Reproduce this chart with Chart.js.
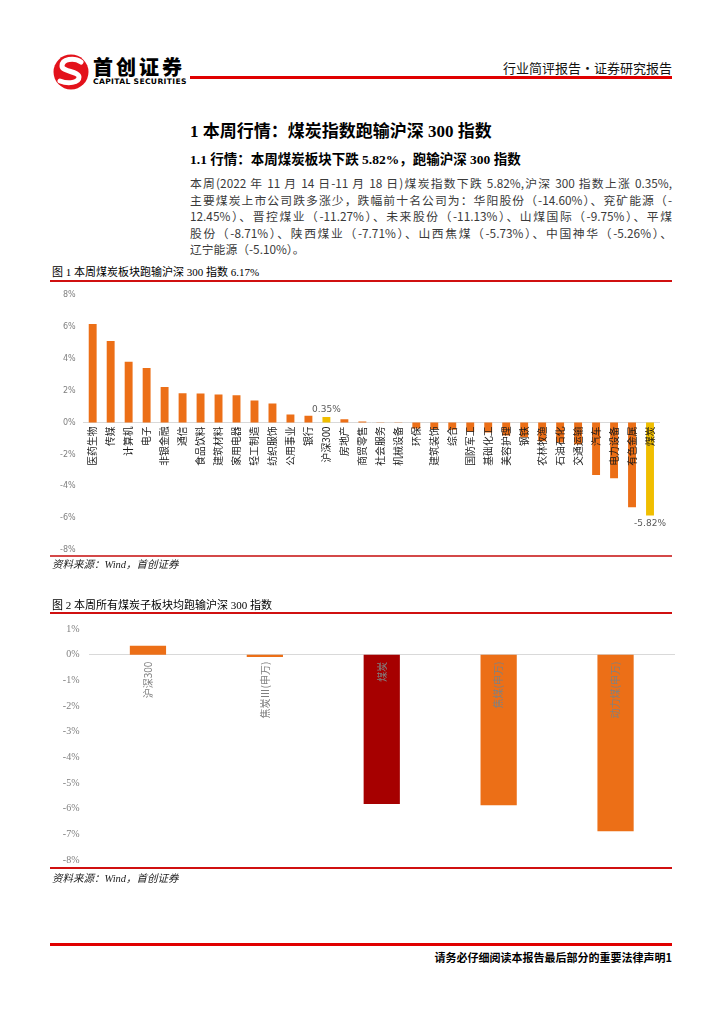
<!DOCTYPE html>
<html>
<head>
<meta charset="utf-8">
<script src="https://cdn.jsdelivr.net/npm/chart.js@4.4.0/dist/chart.umd.min.js"></script>
<style>
  html, body { margin:0; padding:0; background:#fff; }
  body { width:724px; height:1024px; position:relative; overflow:hidden; font-family:"Noto Sans CJK SC","Noto Sans",sans-serif; color:#000; }
  .abs { position:absolute; white-space:nowrap; }
  .serif { font-family:"Liberation Serif","Noto Sans CJK SC",serif; }
  .line { position:absolute; }
  .para { position:absolute; left:190px; top:175px; width:482px; font-size:11.8px; line-height:16.5px; color:#3a3a3a; }
  .para div { text-align:justify; text-align-last:justify; white-space:nowrap; }
  .para div.last { text-align-last:left; }
  canvas { position:absolute; }
</style>
</head>
<body>
<script>
// ---- data ----
const chart1Categories = ['医药生物','传媒','计算机','电子','非银金融','通信','食品饮料','建筑材料','家用电器','轻工制造','纺织服饰','公用事业','银行','沪深300','房地产','商贸零售','社会服务','机械设备','环保','建筑装饰','综合','国防军工','基础化工','美容护理','钢铁','农林牧渔','石油石化','交通运输','汽车','电力设备','有色金属','煤炭'];
const chart1Values = [6.17,5.10,3.81,3.42,2.23,1.83,1.81,1.75,1.71,1.38,1.19,0.50,0.42,0.35,0.21,0.06,0.02,-0.01,-0.38,-0.42,-0.45,-0.58,-0.62,-0.82,-0.92,-1.18,-1.26,-1.36,-3.29,-3.50,-5.31,-5.82];
const chart1Highlight = ['沪深300','煤炭'];
const chart1Labelled = ['沪深300','煤炭'];
const chart1YTicks = [8,6,4,2,0,-2,-4,-6,-8];

const chart2Categories = ['沪深300','焦炭Ⅲ(申万)','煤炭','焦煤(申万)','动力煤(申万)'];
const chart2Values = [0.35,-0.09,-5.82,-5.87,-6.88];
const chart2YTicks = [1,0,-1,-2,-3,-4,-5,-6,-7,-8];
</script>

<!-- header -->
<svg class="abs" style="left:52px;top:53px" width="40" height="40" viewBox="0 0 40 40">
  <circle cx="19" cy="19" r="17.5" fill="#E3121B"/>
  <path d="M29 9 C22 4, 10 6, 10 13 C10 19, 27 18, 27 24 C27 30, 16 31, 8 28" fill="none" stroke="#fff" stroke-width="5" stroke-linecap="round"/>
</svg>
<div class="abs" style="left:93px;top:56px;font-size:20px;line-height:21px;font-weight:900;letter-spacing:3px;">首创证券</div>
<div class="abs" style="left:93px;top:78px;font-size:7.6px;line-height:8px;font-weight:700;font-family:'DejaVu Sans',sans-serif;letter-spacing:0.35px;">CAPITAL SECURITIES</div>
<div class="abs" style="right:52px;top:61px;font-size:13px;line-height:14px;color:#111;">行业简评报告·证券研究报告</div>
<div class="line" style="left:190px;top:76px;width:482px;height:3px;background:#E00000;"></div>

<!-- headings -->
<div class="abs serif" style="left:190px;top:123px;font-size:17px;line-height:18px;font-weight:700;">1 本周行情：煤炭指数跑输沪深 300 指数</div>
<div class="abs serif" style="left:190px;top:152px;font-size:13.5px;line-height:16px;font-weight:700;">1.1 行情：本周煤炭板块下跌 5.82%，跑输沪深 300 指数</div>

<div class="para">
  <div>本周(2022 年 11 月 14 日-11 月 18 日)煤炭指数下跌 5.82%,沪深 300 指数上涨 0.35%,</div>
  <div>主要煤炭上市公司跌多涨少，跌幅前十名公司为：华阳股份（-14.60%）、兖矿能源（-</div>
  <div>12.45%）、晋控煤业（-11.27%）、未来股份（-11.13%）、山煤国际（-9.75%）、平煤</div>
  <div>股份（-8.71%）、陕西煤业（-7.71%）、山西焦煤（-5.73%）、中国神华（-5.26%）、</div>
  <div class="last">辽宁能源（-5.10%）。</div>
</div>

<!-- figure 1 -->
<div class="abs serif" style="left:52px;top:266px;font-size:11px;line-height:12px;">图 1 本周煤炭板块跑输沪深 300 指数 6.17%</div>
<div class="line" style="left:50px;top:280px;width:622px;height:2px;background:#D01010;"></div>
<canvas id="c1" width="640" height="281" style="left:40px;top:282px;"></canvas>
<div class="line" style="left:50px;top:555px;width:622px;height:2px;background:#D44848;"></div>
<div class="abs serif" style="left:52px;top:559px;font-size:10.5px;line-height:11px;font-style:italic;color:#222;">资料来源：Wind，首创证券</div>

<!-- figure 2 -->
<div class="abs serif" style="left:52px;top:599px;font-size:11px;line-height:12px;">图 2 本周所有煤炭子板块均跑输沪深 300 指数</div>
<div class="line" style="left:50px;top:612px;width:622px;height:2px;background:#D01010;"></div>
<canvas id="c2" width="640" height="263" style="left:40px;top:613px;"></canvas>
<div class="line" style="left:50px;top:867px;width:622px;height:2px;background:#D01010;"></div>
<div class="abs serif" style="left:52px;top:873px;font-size:10.5px;line-height:11px;font-style:italic;color:#222;">资料来源：Wind，首创证券</div>

<!-- footer -->
<div class="line" style="left:50px;top:943px;width:622px;height:3px;background:#E00000;"></div>
<div class="abs" style="right:52px;top:951px;font-size:11px;line-height:13px;font-weight:700;">请务必仔细阅读本报告最后部分的重要法律声明1</div>

<script>
const ORANGE = '#EC6F17';
const YELLOW = '#F0BE00';
const DARKRED = '#A60000';
const cjk = '"Noto Sans CJK SC", sans-serif';

const valueLabelPlugin = {
  id: 'valueLabels',
  afterDatasetsDraw(chart, args, opts) {
    if (!opts.names) return;
    const {ctx} = chart;
    const meta = chart.getDatasetMeta(0);
    ctx.save();
    ctx.font = '9px "DejaVu Sans", sans-serif';
    ctx.fillStyle = '#595959';
    ctx.textAlign = 'center';
    chart.data.labels.forEach((lab, i) => {
      if (!opts.names.includes(lab)) return;
      const v = chart.data.datasets[0].data[i];
      const el = meta.data[i];
      const txt = v.toFixed(2) + '%';
      if (v >= 0) { ctx.textBaseline = 'bottom'; ctx.fillText(txt, el.x, el.y - 3); }
      else { ctx.textBaseline = 'top'; ctx.fillText(txt, el.x, el.y + 4); }
    });
    ctx.restore();
  }
};

new Chart(document.getElementById('c1'), {
  type: 'bar',
  data: {
    labels: chart1Categories,
    datasets: [{
      data: chart1Values,
      backgroundColor: chart1Categories.map(c => chart1Highlight.includes(c) ? YELLOW : ORANGE),
      barPercentage: 0.44,
      categoryPercentage: 1.0
    }]
  },
  plugins: [valueLabelPlugin],
  options: {
    responsive: false,
    animation: false,
    layout: { padding: { left: 0, right: 21, top: 8, bottom: 5 } },
    plugins: { legend: { display: false }, tooltip: { enabled: false }, valueLabels: { names: chart1Labelled } },
    scales: {
      x: {
        position: { y: 0 },
        grid: { display: false, drawTicks: false },
        border: { display: true, color: '#D9D9D9', width: 1, z: 0 },
        ticks: { z: 1, minRotation: 90, maxRotation: 90, autoSkip: false, padding: 4, color: '#1a1a1a', font: { family: cjk, size: 9.8 } }
      },
      y: {
        min: -8, max: 8,
        afterBuildTicks(s) { s.ticks = chart1YTicks.map(v => ({ value: v })); },
        afterFit(s) { s.width = 43.7; },
        grid: { display: false, drawTicks: false },
        border: { display: false },
        ticks: { padding: 8, color: '#7F7F7F', font: { family: '"DejaVu Sans", sans-serif', size: 8 }, callback: v => v + '%' }
      }
    }
  }
});

new Chart(document.getElementById('c2'), {
  type: 'bar',
  data: {
    labels: chart2Categories,
    datasets: [{
      data: chart2Values,
      backgroundColor: chart2Categories.map(c => c === '煤炭' ? DARKRED : ORANGE),
      barPercentage: 0.31,
      categoryPercentage: 1.0
    }]
  },
  options: {
    responsive: false,
    animation: false,
    layout: { padding: { left: 0, right: 6, top: 14, bottom: 7 } },
    plugins: { legend: { display: false }, tooltip: { enabled: false } },
    scales: {
      x: {
        position: { y: 0 },
        grid: { display: false, drawTicks: false },
        border: { display: true, color: '#D9D9D9', width: 1, z: 0 },
        ticks: { z: 1, minRotation: 90, maxRotation: 90, autoSkip: false, padding: 7, color: '#808080', font: { family: cjk, size: 10 } }
      },
      y: {
        min: -8, max: 1,
        afterBuildTicks(s) { s.ticks = chart2YTicks.map(v => ({ value: v })); },
        afterFit(s) { s.width = 49.5; },
        grid: { display: false, drawTicks: false },
        border: { display: false },
        ticks: { padding: 10, color: '#7F7F7F', font: { family: '"Liberation Serif", serif', size: 10 }, callback: v => v + '%' }
      }
    }
  }
});
</script>
</body>
</html>
